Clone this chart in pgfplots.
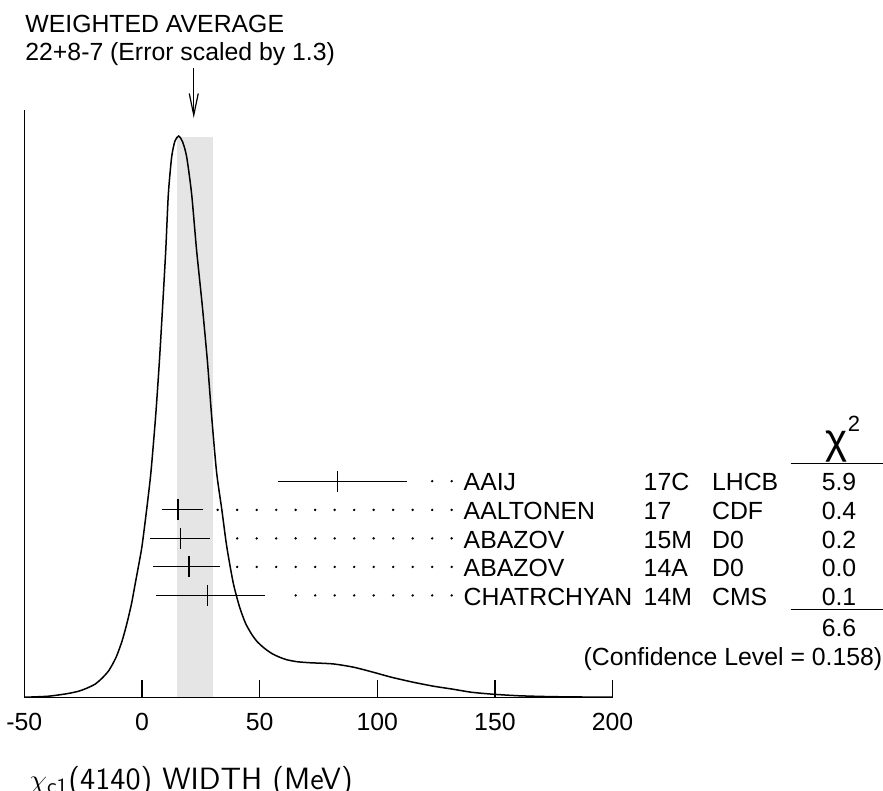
\documentclass[border=0pt]{standalone}
\usepackage{fontspec}
\setmainfont{Liberation Sans}
\usepackage{pgfplots}
\usepackage{pgfplotstable}
\pgfplotsset{compat=1.18}
\usetikzlibrary{arrows.meta}

% ideogram curve (height in px above the axis)
\pgfplotstableread{
x h
-50 0
-40 1
-32 3.5
-27 6
-23.5 9
-20 13
-17 19
-14 27
-11 40
-8.5 56
-6.5 73
-4.5 93
-3 112
-1.5 131
0 151
2 188
3.8 225
5.8 281
7.4 336
8.8 392
10.1 447
11.2 503
12.6 540
14 556
15.6 561
17.3 555
19 540
21.1 503
23.2 447
25.6 392
27.8 336
29.6 281
31.7 225
33.9 188
36 151
38.8 114
41.5 90
44 74
46.6 63
49 55.5
52 49
55 44
58 40.5
61.5 37.5
66 35.5
71.4 34.5
81.3 33.3
90 30
98.3 25
106 20
115.3 15
124 11
132.3 8
140 5
149.3 3
160 1.5
170 0.8
180 0.4
200 0
}\curve

\begin{document}
\begin{tikzpicture}[font=\fontsize{12.4}{14}\selectfont]
\begin{axis}[
  scale only axis, width=294pt, height=293.5pt,
  xmin=-50, xmax=200, ymin=0, ymax=587,
  axis x line=bottom, axis y line=left,
  axis line style={-, line width=0.7pt},
  xtick={-50,0,50,100,150,200},
  xticklabels={-50,0,50,100,150,200},
  ytick=\empty,
  tick align=inside, major tick length=8.5pt,
  x tick style={line width=0.6pt, black},
  xticklabel style={anchor=base, yshift=-16.5pt, font=\fontsize{12.4}{14}\selectfont},
  clip=false,
]
% weighted average band
\addplot[fill=gray!20, draw=none] coordinates {(15,560) (30,560)} \closedcycle;
\addplot[black, line width=0.75pt, smooth, tension=0.4] table[x=x,y=h] {\curve};

% dotted leaders
\addplot[only marks, mark=*, mark size=0.38pt, black] coordinates {
  (123.34,216) (131.62,216)
  (32.17,187.3) (40.46,187.3) (48.75,187.3) (57.04,187.3) (65.32,187.3) (73.61,187.3) (81.90,187.3)
  (90.19,187.3) (98.47,187.3) (106.76,187.3) (115.05,187.3) (123.34,187.3) (131.62,187.3)
  (40.46,158.8) (48.75,158.8) (57.04,158.8) (65.32,158.8) (73.61,158.8) (81.90,158.8)
  (90.19,158.8) (98.47,158.8) (106.76,158.8) (115.05,158.8) (123.34,158.8) (131.62,158.8)
  (40.46,130.3) (48.75,130.3) (57.04,130.3) (65.32,130.3) (73.61,130.3) (81.90,130.3)
  (90.19,130.3) (98.47,130.3) (106.76,130.3) (115.05,130.3) (123.34,130.3) (131.62,130.3)
  (65.32,101.8) (73.61,101.8) (81.90,101.8)
  (90.19,101.8) (98.47,101.8) (106.76,101.8) (115.05,101.8) (123.34,101.8) (131.62,101.8)
};

% measurements
\addplot[only marks, black, mark=|, mark size=5.2pt, mark options={line width=0.6pt},
  error bars/.cd, x dir=both, x explicit, error mark=none,
  error bar style={line width=0.6pt}] coordinates {
  (83,216) += (29.7,0) -= (25.2,0)
  (15.3,187.3) += (10.7,0) -= (6.6,0)
  (16.3,158.8) += (12.7,0) -= (12.7,0)
  (20,130.3) += (13.3,0) -= (15.2,0)
  (28,101.8) += (24.2,0) -= (22,0)
};

% arrow to the weighted average
\draw[line width=0.6pt, -{Straight Barb[length=10.8pt, width=4.5pt]}]
  (axis cs:22,629) -- (axis cs:22,579);

\node[anchor=base west, inner sep=0] at (axis cs:-49.73,664) {WEIGHTED AVERAGE};
\node[anchor=base west, inner sep=0] at (axis cs:-49.73,636.3) {22+8-7 (Error scaled by 1.3)};

% table of measurements
\node[anchor=base west, inner sep=0] at (axis cs:136.56,206.3) {AAIJ};
\node[anchor=base west, inner sep=0] at (axis cs:136.56,177.6) {AALTONEN};
\node[anchor=base west, inner sep=0] at (axis cs:136.56,149.1) {ABAZOV};
\node[anchor=base west, inner sep=0] at (axis cs:136.56,120.6) {ABAZOV};
\node[anchor=base west, inner sep=0] at (axis cs:136.56,92.1) {CHATRCHYAN};

\node[anchor=base west, inner sep=0] at (axis cs:213.07,206.3) {17C};
\node[anchor=base west, inner sep=0] at (axis cs:213.07,177.6) {17};
\node[anchor=base west, inner sep=0] at (axis cs:213.07,149.1) {15M};
\node[anchor=base west, inner sep=0] at (axis cs:213.07,120.6) {14A};
\node[anchor=base west, inner sep=0] at (axis cs:213.07,92.1) {14M};

\node[anchor=base west, inner sep=0] at (axis cs:242.14,206.3) {LHCB};
\node[anchor=base west, inner sep=0] at (axis cs:242.14,177.6) {CDF};
\node[anchor=base west, inner sep=0] at (axis cs:242.14,149.1) {D0};
\node[anchor=base west, inner sep=0] at (axis cs:242.14,120.6) {D0};
\node[anchor=base west, inner sep=0] at (axis cs:242.14,92.1) {CMS};

\node[anchor=base west, inner sep=0] at (axis cs:290.5,243.3)
  {\fontsize{21}{22}\selectfont χ\raisebox{11pt}{\fontsize{11}{12}\selectfont 2}};
\draw[line width=0.6pt] (axis cs:275.71,233.7) -- (axis cs:314.82,233.7);
\node[anchor=base, inner sep=0] at (axis cs:296.24,206.3) {5.9};
\node[anchor=base, inner sep=0] at (axis cs:296.24,177.6) {0.4};
\node[anchor=base, inner sep=0] at (axis cs:296.24,149.1) {0.2};
\node[anchor=base, inner sep=0] at (axis cs:296.24,120.6) {0.0};
\node[anchor=base, inner sep=0] at (axis cs:296.24,92.1) {0.1};
\draw[line width=0.6pt] (axis cs:275.71,87.7) -- (axis cs:314.82,87.7);
\node[anchor=base, inner sep=0] at (axis cs:296.24,60.3) {6.6};
\node[anchor=base east, inner sep=0] at (axis cs:314.82,32) {(Confidence Level = 0.158)};

\node[anchor=base west, inner sep=0] at (axis cs:-48,-92)
  {\sffamily\fontsize{15.4}{18}\selectfont $\chi_{\mathsf{c1}}$(4140) WIDTH (MeV)};

\coordinate (bbsw) at (axis cs:-60.35,-93);
\coordinate (bbne) at (axis cs:314.94,697);
\end{axis}
\pgfresetboundingbox
\path[use as bounding box] (bbsw) rectangle (bbne);
\end{tikzpicture}
\end{document}
